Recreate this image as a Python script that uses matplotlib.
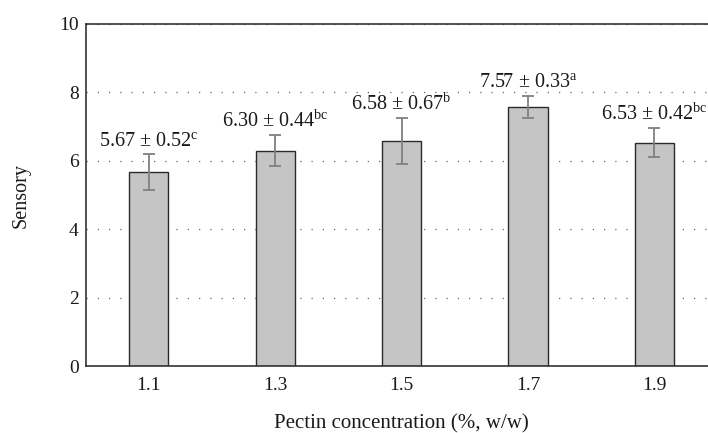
import matplotlib
matplotlib.use("Agg")
import matplotlib.pyplot as plt
import numpy as np

plt.rcParams["font.family"] = ["Liberation Serif", "DejaVu Serif"]
plt.rcParams["mathtext.fontset"] = "custom"
plt.rcParams["mathtext.rm"] = "Liberation Serif"
plt.rcParams["mathtext.it"] = "Liberation Serif:italic"

# Sensory scores by pectin concentration
concentrations = ["1.1", "1.3", "1.5", "1.7", "1.9"]
means = [5.67, 6.30, 6.58, 7.57, 6.53]
sds = [0.52, 0.44, 0.67, 0.33, 0.42]
letters = ["c", "bc", "b", "a", "bc"]

fig = plt.figure(figsize=(7.08, 4.33), dpi=100)
ax = fig.add_axes([0.1208, 0.1547, 0.8927, 0.7899])

x = np.arange(len(concentrations))
ax.yaxis.grid(True, linestyle=(0, (1, 8)), color="#666666", linewidth=0.9)
ax.set_axisbelow(True)

ax.bar(x, means, width=0.31, color="#c4c5c4", edgecolor="#2a2a2a",
       linewidth=1.0, zorder=2)
ax.errorbar(x, means, yerr=sds, fmt="none", ecolor="#808080",
            elinewidth=1.3, capsize=4.5, capthick=1.3, zorder=3)

for xi, m, s, lab in zip(x, means, sds, letters):
    ax.annotate(f"{m:.2f} ± {s:.2f}$^{{\\rm {lab}}}$", xy=(xi, m + s),
                xytext=(0, 6), textcoords="offset points",
                ha="center", va="baseline", fontsize=14.5, color="#1a1a1a")

ax.set_xlim(-0.5, 4.5)
ax.set_ylim(0, 10)
ax.set_yticks([0, 2, 4, 6, 8, 10])
ax.set_xticks(x)
ax.set_xticklabels(concentrations)
ax.tick_params(axis="both", length=0, labelsize=14, colors="#1a1a1a")
ax.tick_params(axis="x", pad=8)
ax.tick_params(axis="y", pad=5)

for side in ["left", "bottom", "top"]:
    ax.spines[side].set_color("#333333")
    ax.spines[side].set_linewidth(1.2)
ax.spines["right"].set_visible(False)

ax.set_ylabel("Sensory", fontsize=14.5, color="#1a1a1a")
ax.yaxis.set_label_coords(-0.087, 0.5)
ax.set_xlabel("Pectin concentration (%, w/w)", fontsize=15, color="#1a1a1a")
ax.xaxis.set_label_coords(0.5, -0.142)

fig.savefig("out.png", dpi=100)
